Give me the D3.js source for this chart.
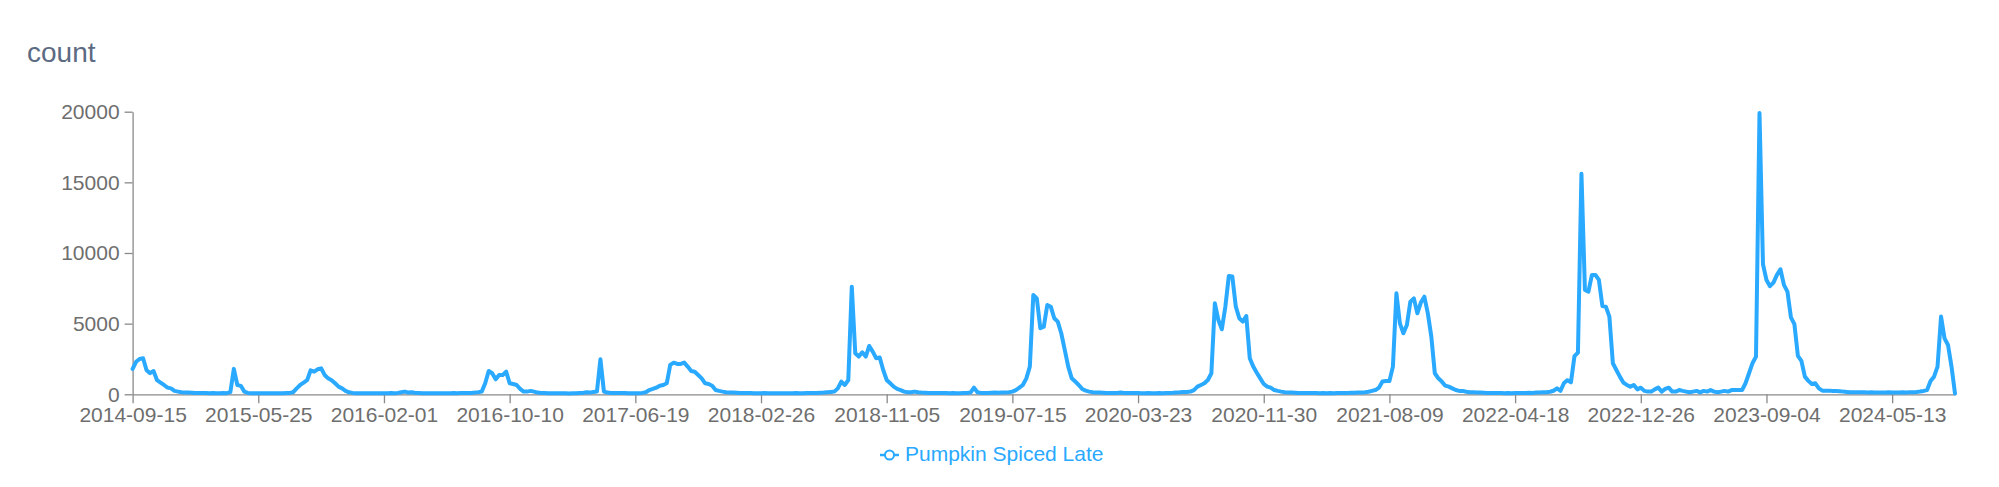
<!DOCTYPE html>
<html>
<head>
<meta charset="utf-8">
<script src="https://cdn.jsdelivr.net/npm/d3@7"></script>
<style>
  body { margin: 0; background: #fff; }
  svg { display: block; font-family: "Liberation Sans", Arial, sans-serif; }
</style>
</head>
<body>
<div id="chart"></div>
<script>
// Serie semanal, lunes desde 2014-09-15
const startDate = '2014-09-15';
const seriesName = 'Pumpkin Spiced Late';
const counts = [
  1800, 2300, 2500, 2550, 1700, 1500, 1650, 1000, 830, 660,
  470, 420, 240, 190, 140, 130, 120, 110, 100, 100,
  90, 90, 80, 90, 80, 80, 90, 80, 150, 1800,
  660, 600, 190, 100, 80, 80, 70, 70, 80, 70,
  70, 80, 70, 80, 90, 100, 150, 420, 660, 830,
  1000, 1700, 1600, 1770, 1840, 1370, 1130, 1000, 780, 540,
  420, 240, 140, 100, 80, 80, 70, 70, 80, 70,
  80, 70, 70, 80, 90, 80, 100, 150, 190, 120,
  150, 100, 90, 80, 80, 70, 80, 80, 70, 70,
  80, 80, 90, 80, 90, 100, 90, 100, 120, 150,
  190, 780, 1650, 1490, 1060, 1370, 1370, 1600, 780, 730,
  660, 380, 190, 190, 240, 190, 120, 100, 90, 80,
  80, 70, 70, 80, 70, 60, 70, 80, 90, 100,
  150, 120, 170, 190, 2480, 200, 120, 100, 90, 100,
  100, 90, 80, 70, 70, 80, 100, 150, 300, 380,
  470, 610, 660, 780, 2080, 2240, 2150, 2150, 2240, 1960,
  1650, 1600, 1370, 1130, 780, 730, 610, 300, 240, 190,
  150, 130, 120, 110, 100, 100, 90, 90, 80, 80,
  80, 90, 80, 80, 70, 70, 80, 70, 70, 80,
  90, 80, 80, 90, 100, 90, 100, 110, 120, 150,
  170, 190, 420, 900, 660, 1000, 7620, 2900, 2670, 2970,
  2670, 3420, 3020, 2550, 2600, 1720, 1010, 780, 540, 380,
  300, 190, 140, 150, 190, 140, 120, 110, 100, 100,
  90, 90, 100, 90, 80, 90, 80, 80, 90, 100,
  120, 470, 140, 100, 90, 100, 110, 120, 110, 120,
  130, 150, 190, 300, 470, 660, 1130, 1960, 7030, 6790,
  4670, 4790, 6320, 6200, 5380, 5140, 4320, 3140, 1960, 1130,
  900, 660, 380, 260, 190, 150, 130, 120, 110, 100,
  100, 90, 100, 120, 100, 90, 90, 100, 90, 80,
  80, 90, 80, 80, 90, 80, 90, 100, 110, 130,
  140, 160, 170, 190, 300, 540, 660, 780, 1010, 1490,
  6440, 5260, 4600, 6200, 8370, 8330, 6200, 5380, 5140, 5540,
  2550, 1960, 1530, 1130, 730, 540, 470, 300, 240, 190,
  150, 130, 120, 110, 100, 100, 90, 100, 90, 90,
  80, 90, 80, 90, 80, 90, 100, 90, 100, 110,
  110, 120, 130, 150, 180, 240, 300, 470, 900, 940,
  940, 1960, 7150, 5020, 4320, 4910, 6560, 6790, 5730, 6490,
  6910, 5730, 4080, 1490, 1130, 900, 610, 540, 420, 300,
  240, 240, 180, 150, 140, 130, 120, 110, 100, 100,
  90, 100, 90, 80, 90, 80, 90, 100, 90, 100,
  110, 100, 120, 130, 140, 150, 180, 250, 420, 250,
  800, 1000, 850, 2700, 2950, 15600, 7380, 7270, 8450, 8450,
  8090, 6250, 6200, 5500, 2200, 1720, 1250, 830, 660, 540,
  660, 350, 470, 240, 190, 190, 350, 470, 190, 380,
  470, 190, 190, 300, 240, 190, 140, 190, 240, 140,
  240, 190, 300, 190, 140, 190, 240, 190, 300, 300,
  300, 300, 780, 1490, 2200, 2670, 19900, 9200, 8090, 7650,
  7900, 8450, 8850, 7740, 7270, 5450, 4960, 2720, 2370, 1250,
  950, 730, 780, 420, 260, 260, 260, 240, 240, 220,
  190, 170, 150, 150, 140, 150, 140, 130, 140, 130,
  130, 120, 130, 140, 130, 120, 130, 140, 130, 140,
  150, 170, 200, 240, 300, 940, 1250, 1960, 5500, 3960,
  3490, 1960, 50
];
const xTickLabels = [
  '2014-09-15', '2015-05-25', '2016-02-01', '2016-10-10', '2017-06-19',
  '2018-02-26', '2018-11-05', '2019-07-15', '2020-03-23', '2020-11-30',
  '2021-08-09', '2022-04-18', '2022-12-26', '2023-09-04', '2024-05-13'
];
const yTicks = [0, 5000, 10000, 15000, 20000];

const width = 1999, height = 487;
const plotLeft = 132.6, plotRight = 1955, plotTop = 111.7, plotBottom = 394.3;
const lineColor = '#29a9ff';

const fmt = d3.utcFormat('%Y-%m-%d');
const start = d3.utcParse('%Y-%m-%d')(startDate);
const weeks = counts.map((_, i) => fmt(d3.utcDay.offset(start, 7 * i)));
const data = weeks.map((w, i) => ({ week: w, count: counts[i] }));

const svg = d3.select('#chart').append('svg')
  .attr('width', width)
  .attr('height', height);

const x = d3.scalePoint().domain(weeks).range([plotLeft, plotRight]).padding(0);
const y = d3.scaleLinear().domain([0, 20000]).range([plotBottom, plotTop]);

// Título del eje
svg.append('text')
  .attr('x', 27).attr('y', 61.5)
  .attr('font-size', 28)
  .attr('fill', '#5c6a82')
  .text('count');

// Eje Y
const yAxis = svg.append('g')
  .attr('transform', `translate(${plotLeft},0)`)
  .call(d3.axisLeft(y).tickValues(yTicks).tickFormat(d3.format('d')).tickSize(8).tickSizeOuter(0).tickPadding(5));

// Eje X
const xAxis = svg.append('g')
  .attr('transform', `translate(0,${plotBottom})`)
  .call(d3.axisBottom(x).tickValues(xTickLabels).tickSize(9).tickSizeOuter(0).tickPadding(4));

[yAxis, xAxis].forEach(g => {
  g.select('.domain').attr('stroke', '#8a8a8a').attr('stroke-width', 1.3);
  g.selectAll('.tick line').attr('stroke', '#8a8a8a').attr('stroke-width', 1.3);
  g.selectAll('.tick text')
    .attr('fill', '#6e6e6e')
    .attr('font-size', 21)
    .attr('font-family', '"Liberation Sans", Arial, sans-serif');
});

// Línea
const line = d3.line()
  .x(d => x(d.week))
  .y(d => y(d.count));

svg.append('path')
  .datum(data)
  .attr('fill', 'none')
  .attr('stroke', lineColor)
  .attr('stroke-width', 4)
  .attr('stroke-linejoin', 'round')
  .attr('stroke-linecap', 'round')
  .attr('d', line);

// Leyenda
const legend = svg.append('g').attr('transform', 'translate(880,455)');
legend.append('line')
  .attr('x1', 0).attr('x2', 19)
  .attr('stroke', lineColor).attr('stroke-width', 2.5);
legend.append('circle')
  .attr('cx', 9.5).attr('r', 4.5)
  .attr('fill', '#fff')
  .attr('stroke', lineColor).attr('stroke-width', 2);
legend.append('text')
  .attr('x', 25).attr('y', 6)
  .attr('font-size', 21)
  .attr('fill', lineColor)
  .text(seriesName);
</script>
</body>
</html>
